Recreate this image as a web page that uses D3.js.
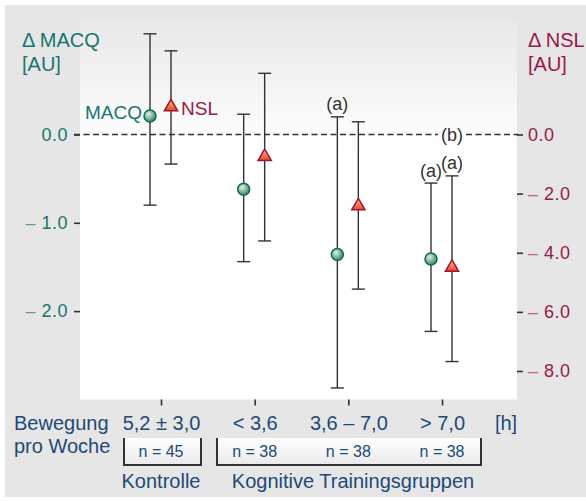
<!DOCTYPE html>
<html lang="de">
<head>
<meta charset="utf-8">
<title>MACQ / NSL</title>
<script src="https://cdn.jsdelivr.net/npm/d3@7"></script>
<style>
  body { margin: 0; background: #fff; }
  svg { display: block; font-family: "Liberation Sans", Arial, sans-serif; }
</style>
</head>
<body>
<script>
// Werte
var groups    = ["5,2 ± 3,0", "< 3,6", "3,6 – 7,0", "> 7,0"];
var nLabels   = ["n = 45", "n = 38", "n = 38", "n = 38"];
var macqMean  = [0.21, -0.62, -1.36, -1.41];
var macqHi    = [1.14, 0.23, 0.20, -0.55];
var macqLo    = [-0.80, -1.44, -2.87, -2.23];
var nslMean   = [0.93, -0.75, -2.42, -4.50];
var nslHi     = [2.83, 2.07, 0.43, -1.40];
var nslLo     = [-1.00, -3.60, -5.23, -7.68];
var leftTicks  = [0, -1, -2];
var rightTicks = [0, -2, -4, -6, -8];
// (a)-Markierungen: Reihe, Gruppe
var sigMarks = [["macq", 2], ["macq", 3], ["nsl", 3]];

var W = 586, H = 501;
var plot = {left: 80, right: 517, top: 21, bottom: 399.5};

var teal = "#15776d", crimson = "#9c1844", navy = "#214a78", ink = "#333333";

var svg = d3.select("body").append("svg")
    .attr("width", W)
    .attr("height", H);

var defs = svg.append("defs");

var bg = defs.append("linearGradient").attr("id", "plotbg")
    .attr("x1", 0).attr("y1", 0).attr("x2", 0).attr("y2", 1);
bg.append("stop").attr("offset", 0).attr("stop-color", "#e9e9e9");
bg.append("stop").attr("offset", 0.34).attr("stop-color", "#ffffff");
bg.append("stop").attr("offset", 1).attr("stop-color", "#ffffff");

var boxbg = defs.append("linearGradient").attr("id", "boxbg")
    .attr("x1", 0).attr("y1", 0).attr("x2", 0).attr("y2", 1);
boxbg.append("stop").attr("offset", 0).attr("stop-color", "#ffffff");
boxbg.append("stop").attr("offset", 1).attr("stop-color", "#e9e9e9");

var dotGrad = defs.append("radialGradient").attr("id", "dotg")
    .attr("cx", 0.38).attr("cy", 0.35).attr("r", 0.7);
dotGrad.append("stop").attr("offset", 0).attr("stop-color", "#e2f2e4");
dotGrad.append("stop").attr("offset", 0.55).attr("stop-color", "#78b592");
dotGrad.append("stop").attr("offset", 1).attr("stop-color", "#2f7f60");

var triGrad = defs.append("linearGradient").attr("id", "trig")
    .attr("x1", 0).attr("y1", 0).attr("x2", 0).attr("y2", 1);
triGrad.append("stop").attr("offset", 0).attr("stop-color", "#fbc48a");
triGrad.append("stop").attr("offset", 1).attr("stop-color", "#e2472a");

// Hintergrund
svg.append("rect")
    .attr("x", 5).attr("y", 5)
    .attr("width", W - 5).attr("height", 492)
    .attr("fill", "#e6e6e6");

svg.append("rect")
    .attr("x", plot.left).attr("y", plot.top)
    .attr("width", plot.right - plot.left)
    .attr("height", plot.bottom - plot.top)
    .attr("fill", "url(#plotbg)");

// Skalen
var x = d3.scalePoint().domain(groups).range([161, 442]);
var yL = d3.scaleLinear().domain([0, -2]).range([134.5, 311.1]);
var yR = d3.scaleLinear().domain([0, -8]).range([134.5, 371]);
var offM = -11, offN = 10;

function minusLabel(sel, color, light) {
  sel.each(function(d) {
    var t = d3.select(this).text("");
    if (d < 0) {
      t.append("tspan").attr("fill", light).text("– ");
    }
    t.append("tspan").attr("fill", color).text(Math.abs(d).toFixed(1));
  });
}

// linke Achse
var gL = svg.append("g")
    .attr("transform", "translate(" + plot.left + ",0)")
    .call(d3.axisLeft(yL).tickValues(leftTicks).tickSize(6).tickPadding(6));
gL.select(".domain").remove();
gL.selectAll(".tick line").attr("stroke", ink).attr("stroke-width", 1.6);
gL.selectAll(".tick text")
    .attr("font-size", 18).attr("letter-spacing", 0.5)
    .attr("font-family", null)
    .call(minusLabel, teal, "#5f9f97");

// rechte Achse
var gR = svg.append("g")
    .attr("transform", "translate(" + plot.right + ",0)")
    .call(d3.axisRight(yR).tickValues(rightTicks).tickSize(6).tickPadding(5));
gR.select(".domain").remove();
gR.selectAll(".tick line").attr("stroke", ink).attr("stroke-width", 1.6);
gR.selectAll(".tick text")
    .attr("font-size", 18).attr("letter-spacing", 0.5)
    .attr("font-family", null)
    .call(minusLabel, crimson, "#c06585");

// untere Achse
var gB = svg.append("g")
    .attr("transform", "translate(0," + plot.bottom + ")")
    .call(d3.axisBottom(x).tickSize(6).tickPadding(0));
gB.select(".domain").remove();
gB.selectAll(".tick line").attr("stroke", ink).attr("stroke-width", 1.6);
gB.selectAll(".tick text")
    .attr("y", 30.5).attr("dy", null)
    .attr("font-size", 20).attr("font-family", null)
    .attr("fill", navy);

// Nulllinie mit Lücke für (b)
var zeroY = yL(0);
[[74, 438], [466, 518]].forEach(function(s) {
  svg.append("line")
      .attr("x1", s[0]).attr("x2", s[1])
      .attr("y1", zeroY).attr("y2", zeroY)
      .attr("stroke", ink).attr("stroke-width", 1.7)
      .attr("stroke-dasharray", "6,3.5");
});
svg.append("text")
    .attr("x", 452).attr("y", zeroY + 6.5)
    .attr("text-anchor", "middle")
    .attr("font-size", 18).attr("fill", ink)
    .text("(b)");

// Fehlerbalken
function errorBars(mean, hi, lo, scale, off) {
  var g = svg.append("g");
  var d = groups.map(function(k, i) { return {x: x(k) + off, hi: hi[i], lo: lo[i]}; });
  g.selectAll(".v").data(d).enter().append("line")
      .attr("x1", function(e) { return e.x; }).attr("x2", function(e) { return e.x; })
      .attr("y1", function(e) { return scale(e.hi); })
      .attr("y2", function(e) { return scale(e.lo); })
      .attr("stroke", ink).attr("stroke-width", 1.4);
  ["hi", "lo"].forEach(function(key) {
    g.selectAll(".c" + key).data(d).enter().append("line")
        .attr("x1", function(e) { return e.x - 6.5; })
        .attr("x2", function(e) { return e.x + 6.5; })
        .attr("y1", function(e) { return scale(e[key]); })
        .attr("y2", function(e) { return scale(e[key]); })
        .attr("stroke", ink).attr("stroke-width", 1.4);
  });
}
errorBars(macqMean, macqHi, macqLo, yL, offM);
errorBars(nslMean, nslHi, nslLo, yR, offN);

// Punkte
svg.append("g").selectAll("circle")
    .data(macqMean).enter().append("circle")
    .attr("cx", function(d, i) { return x(groups[i]) + offM; })
    .attr("cy", function(d) { return yL(d); })
    .attr("r", 6)
    .attr("fill", "url(#dotg)")
    .attr("stroke", "#13695c").attr("stroke-width", 1.5);

svg.append("g").selectAll("path")
    .data(nslMean).enter().append("path")
    .attr("d", d3.symbol(d3.symbolTriangle, 76))
    .attr("transform", function(d, i) {
      return "translate(" + (x(groups[i]) + offN) + "," + yR(d) + ")";
    })
    .attr("fill", "url(#trig)")
    .attr("stroke", "#a3122f").attr("stroke-width", 1.5)
    .attr("stroke-linejoin", "miter");

// (a)
sigMarks.forEach(function(m) {
  var i = m[1];
  var isM = m[0] === "macq";
  var px = x(groups[i]) + (isM ? offM : offN);
  var py = isM ? yL(macqHi[i]) : yR(nslHi[i]);
  svg.append("text")
      .attr("x", px).attr("y", py - 6.5)
      .attr("text-anchor", "middle")
      .attr("font-size", 18).attr("fill", ink)
      .text("(a)");
});

// Reihenbeschriftung
svg.append("text")
    .attr("x", x(groups[0]) + offM - 8).attr("y", 119)
    .attr("text-anchor", "end")
    .attr("font-size", 19).attr("fill", teal)
    .text("MACQ");
svg.append("text")
    .attr("x", x(groups[0]) + offN + 10).attr("y", 114.5)
    .attr("font-size", 19).attr("fill", crimson)
    .text("NSL");

// Achsentitel
var tl = svg.append("text").attr("font-size", 20).attr("fill", teal);
tl.append("tspan").attr("x", 22).attr("y", 47).text("Δ MACQ");
tl.append("tspan").attr("x", 22).attr("y", 71).text("[AU]");
var tr = svg.append("text").attr("font-size", 20).attr("fill", crimson);
tr.append("tspan").attr("x", 528).attr("y", 47).text("Δ NSL");
tr.append("tspan").attr("x", 528).attr("y", 71).text("[AU]");

// Beschriftung unten
var bw = svg.append("text").attr("font-size", 20).attr("fill", navy);
bw.append("tspan").attr("x", 14).attr("y", 430).text("Bewegung");
bw.append("tspan").attr("x", 14).attr("y", 453).text("pro Woche");
svg.append("text")
    .attr("x", 506).attr("y", 430)
    .attr("text-anchor", "middle")
    .attr("font-size", 20).attr("fill", navy)
    .text("[h]");

// Klammern mit n
var brackets = [[124, 201], [217, 481]];
brackets.forEach(function(b) {
  svg.append("rect")
      .attr("x", b[0]).attr("y", 438)
      .attr("width", b[1] - b[0]).attr("height", 27)
      .attr("fill", "url(#boxbg)");
  svg.append("path")
      .attr("d", "M" + b[0] + ",438V465H" + b[1] + "V438")
      .attr("fill", "none")
      .attr("stroke", ink).attr("stroke-width", 2);
});
svg.append("g").selectAll("text")
    .data(nLabels).enter().append("text")
    .attr("x", function(d, i) { return x(groups[i]); })
    .attr("y", 457)
    .attr("text-anchor", "middle")
    .attr("font-size", 16).attr("fill", navy)
    .text(function(d) { return d; });

svg.append("text")
    .attr("x", x(groups[0])).attr("y", 488)
    .attr("text-anchor", "middle")
    .attr("font-size", 20).attr("fill", navy)
    .text("Kontrolle");
svg.append("text")
    .attr("x", 353).attr("y", 488)
    .attr("text-anchor", "middle")
    .attr("font-size", 20).attr("fill", navy)
    .text("Kognitive Trainingsgruppen");
</script>
</body>
</html>
